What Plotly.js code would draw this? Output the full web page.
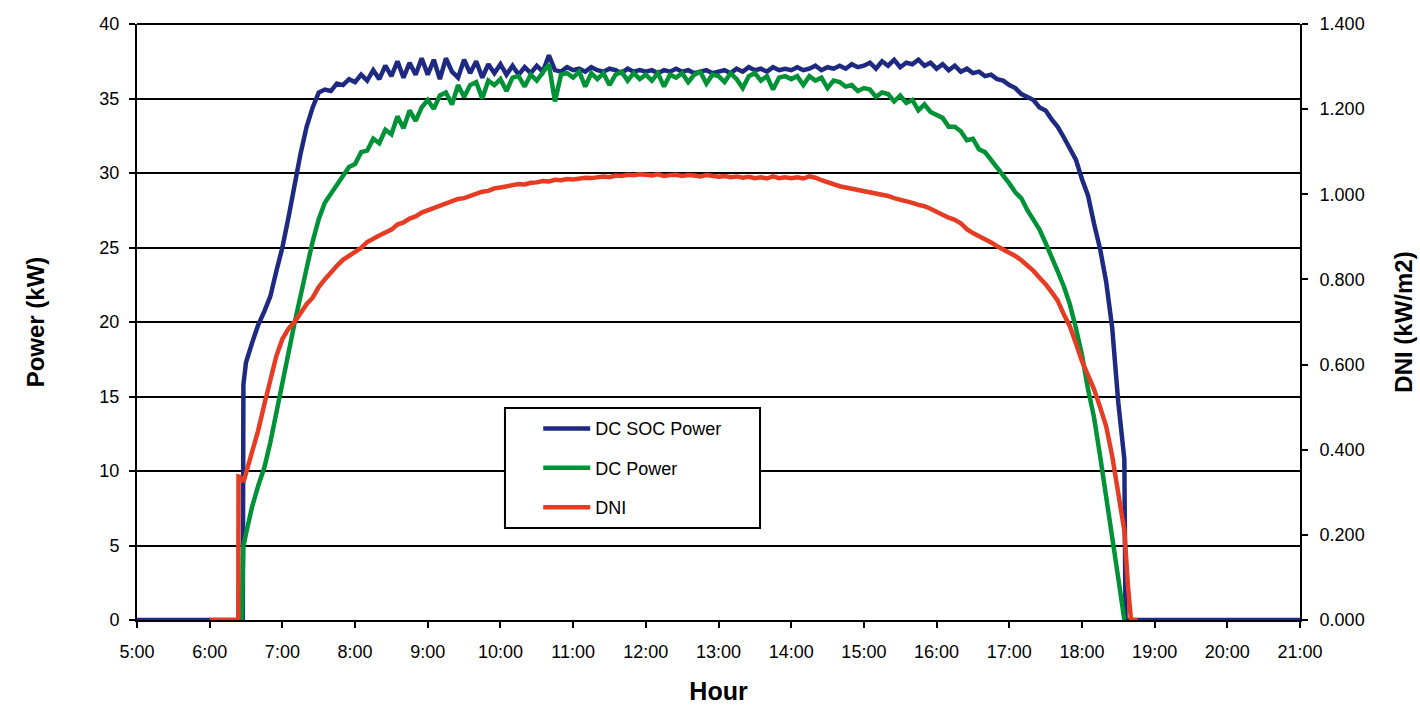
<!DOCTYPE html>
<html><head><meta charset="utf-8">
<script src="https://cdn.plot.ly/plotly-3.0.1.min.js"></script>
<style>html,body{margin:0;padding:0;background:#fff}#chart{width:1420px;height:706px}</style>
</head><body><div id="chart"></div>
<script>
// ---- axis ticks ----
const hourTicks = [5,6,7,8,9,10,11,12,13,14,15,16,17,18,19,20,21];
const hourLabels = ["5:00","6:00","7:00","8:00","9:00","10:00","11:00","12:00","13:00","14:00","15:00","16:00","17:00","18:00","19:00","20:00","21:00"];
const powerTicks = [0,5,10,15,20,25,30,35,40];
const dniTicks = [0,0.2,0.4,0.6,0.8,1.0,1.2,1.4];

// ---- regular 5-minute readings, 6:30 .. 18:30 ----
const gridStart = "6:30";
const gridEnd = "18:30";
const gridStepMin = 5;

// DC SOC Power (kW)
const socPower = [
 17.3,18.6,19.8,20.7,21.7,23.4,
 25.0,27.0,29.2,31.3,33.1,34.4,35.4,35.6,35.5,36.0,35.9,36.3,
 36.1,36.6,36.2,36.9,36.3,37.2,36.5,37.5,36.4,37.4,36.6,37.7,
 36.6,37.6,36.3,37.7,36.8,36.4,37.6,36.7,37.5,36.4,37.3,36.7,
 37.3,36.6,37.2,36.6,37.1,36.7,37.2,36.8,37.9,36.9,36.8,37.1,
 36.9,37.0,36.8,37.1,36.9,36.8,37.0,36.9,36.7,37.0,36.8,36.9,
 36.8,36.9,36.7,36.9,36.8,37.0,36.8,36.9,36.7,36.8,36.9,36.7,
 36.8,36.9,36.7,37.0,36.8,37.1,36.9,37.0,36.8,37.1,36.9,37.0,
 36.9,37.1,36.9,37.0,37.2,36.9,37.1,37.0,37.2,37.0,37.3,37.1,
 37.2,37.4,37.0,37.5,37.2,37.6,37.1,37.4,37.3,37.6,37.2,37.4,
 37.0,37.3,36.9,37.2,36.8,37.0,36.7,36.8,36.5,36.6,36.3,36.2,
 35.9,35.7,35.3,35.1,34.9,34.4,34.2,33.6,33.1,32.4,31.7,30.9,
 29.6,28.5,26.6,24.9,22.7,19.6,14.6
];
// DC Power (kW)
const dcPower = [
 5.8,7.6,9.0,10.2,11.9,13.8,
 15.9,17.9,19.9,21.9,23.6,25.4,26.9,28.0,28.6,29.1,29.7,30.4,
 30.6,31.4,31.5,32.3,32.0,32.9,32.6,33.8,33.0,34.2,33.5,34.4,
 34.9,34.3,35.2,35.4,34.6,35.9,35.1,35.9,36.1,35.0,36.2,35.9,
 36.3,35.5,36.4,36.5,35.8,36.6,36.2,36.7,37.3,34.8,36.6,36.7,
 36.4,36.8,35.8,36.7,36.3,36.7,35.9,36.6,36.8,36.2,36.7,36.3,
 36.6,36.2,36.7,35.8,36.6,36.4,36.7,36.1,36.6,36.8,36.0,36.6,
 36.5,36.1,36.7,36.3,35.7,36.5,36.7,36.2,36.5,35.6,36.4,36.5,
 36.3,36.5,35.9,36.5,36.2,36.4,35.7,36.2,36.1,35.8,35.9,35.5,
 35.7,35.6,35.1,35.4,35.3,34.8,35.2,34.7,34.9,34.2,34.6,34.1,
 33.9,33.7,33.1,33.1,32.8,32.2,32.3,31.6,31.4,30.9,30.4,29.9,
 29.3,28.7,28.3,27.5,26.9,26.2,25.3,24.4,23.4,22.4,21.2,19.6,
 17.8,15.5,13.6,11.0,8.4,5.6,2.8
];
// DNI (kW/m2)
const dni = [
 0.345,0.390,0.445,0.505,0.565,0.620,
 0.660,0.684,0.700,0.722,0.742,0.757,0.782,0.800,0.818,0.832,0.846,0.856,
 0.866,0.874,0.888,0.897,0.903,0.910,0.917,0.929,0.934,0.943,0.948,0.957,
 0.962,0.969,0.972,0.979,0.983,0.989,0.991,0.996,0.999,1.006,1.008,1.014,
 1.016,1.019,1.020,1.024,1.023,1.027,1.028,1.031,1.030,1.034,1.033,1.036,
 1.035,1.037,1.039,1.038,1.041,1.042,1.040,1.044,1.043,1.046,1.045,1.047,
 1.046,1.044,1.047,1.043,1.045,1.046,1.043,1.045,1.044,1.042,1.045,1.043,
 1.041,1.043,1.040,1.042,1.039,1.041,1.038,1.040,1.037,1.042,1.038,1.040,
 1.038,1.040,1.037,1.042,1.039,1.033,1.028,1.024,1.019,1.016,1.013,1.010,
 1.008,1.005,1.003,0.999,0.996,0.991,0.988,0.984,0.980,0.975,0.972,0.966,
 0.958,0.952,0.945,0.940,0.932,0.918,0.909,0.902,0.894,0.887,0.878,0.871,
 0.864,0.855,0.845,0.834,0.820,0.804,0.789,0.770,0.750,0.718,0.690,0.650,
 0.608,0.575,0.542,0.500,0.455,0.385,0.300
];

// ---- irregular readings before / after the regular grid ----
const socLeadTimes = ["5:00","6:27:20","6:27:50","6:29"];
const socLeadVals  = [0, 0, 15.8, 17.0];
const socTailTimes = ["18:35","18:36","21:00"];
const socTailVals  = [10.8, 0, 0];

const dcLeadTimes = ["6:26:30","6:27:45"];
const dcLeadVals  = [0, 4.9];
const dcTailTimes = ["18:35"];
const dcTailVals  = [0];

const dniLeadTimes = ["6:00","6:23:36","6:23:48","6:25","6:28"];
const dniLeadVals  = [0, 0, 0.337, 0.336, 0.325];
const dniTailTimes = ["18:35","18:38","18:40:30","18:46"];
const dniTailVals  = [0.21, 0.08, 0, 0];

// ---- helpers ----
function toHours(s){
  const p = s.split(":").map(Number);
  return p[0] + (p[1]||0)/60 + (p[2]||0)/3600;
}
const gridTimes = [];
for (let m = toHours(gridStart)*60; m <= toHours(gridEnd)*60 + 1e-6; m += gridStepMin) gridTimes.push(m/60);

function series(leadT, leadV, vals, tailT, tailV){
  return {
    x: leadT.map(toHours).concat(gridTimes, tailT.map(toHours)),
    y: leadV.concat(vals, tailV)
  };
}
const sSoc = series(socLeadTimes, socLeadVals, socPower, socTailTimes, socTailVals);
const sDc  = series(dcLeadTimes, dcLeadVals, dcPower, dcTailTimes, dcTailVals);
const sDni = series(dniLeadTimes, dniLeadVals, dni, dniTailTimes, dniTailVals);

const FONT = "Liberation Sans, Arial, Helvetica, sans-serif";
const traces = [
  {x:sSoc.x, y:sSoc.y, name:"DC SOC Power", type:"scatter", mode:"lines",
   line:{color:"#1e2982", width:4.5}, legendgroup:"a", yaxis:"y"},
  {x:sDc.x, y:sDc.y, name:"DC Power", type:"scatter", mode:"lines",
   line:{color:"#009236", width:4.5}, legendgroup:"b", yaxis:"y"},
  {x:sDni.x, y:sDni.y, name:"DNI", type:"scatter", mode:"lines",
   line:{color:"#e63c23", width:4.5}, legendgroup:"c", yaxis:"y2"}
];

const layout = {
  width:1420, height:706,
  margin:{l:137, r:120, t:24, b:86},
  paper_bgcolor:"#fff", plot_bgcolor:"#fff",
  font:{family:FONT, size:18, color:"#000"},
  showlegend:true,
  legend:{x:0.345, xanchor:"left", y:0.352, yanchor:"top",
    bgcolor:"rgba(0,0,0,0)", borderwidth:0, font:{family:FONT, size:18, color:"#000"},
    tracegroupgap:13, traceorder:"grouped", itemwidth:47},
  xaxis:{range:[5,21], tickmode:"array", tickvals:hourTicks, ticktext:hourLabels,
    showgrid:false, zeroline:false, showline:true, linecolor:"#000", linewidth:2,
    mirror:false, ticks:"outside", ticklen:6, tickwidth:2, tickcolor:"#000",
    ticklabelstandoff:8, fixedrange:true,
    title:{text:"<b>Hour</b>", font:{family:FONT, size:25, color:"#000"}, standoff:22}},
  yaxis:{range:[0,40], tickmode:"array", tickvals:powerTicks,
    showgrid:true, gridcolor:"#000", gridwidth:2, zeroline:false,
    showline:true, linecolor:"#000", linewidth:2, ticks:"outside", ticklen:6, tickwidth:2, tickcolor:"#000",
    ticklabelstandoff:6,
    title:{text:"<b>Power (kW)</b>", font:{family:FONT, size:24, color:"#000"}, standoff:48}},
  yaxis2:{range:[0,1.4], tickmode:"array", tickvals:dniTicks, tickformat:".3f",
    overlaying:"y", side:"right", showgrid:false, zeroline:false,
    showline:true, linecolor:"#000", linewidth:2, ticks:"outside", ticklen:6, tickwidth:2, tickcolor:"#000",
    ticklabelstandoff:8,
    title:{text:"<b>DNI (kW/m2)</b>", font:{family:FONT, size:24, color:"#000"}, standoff:32}},
  yaxis3:{range:[0,1.4], tickmode:"array", tickvals:dniTicks, overlaying:"y", side:"right",
    showgrid:false, zeroline:false, showline:false, showticklabels:false,
    ticks:"inside", ticklen:6, tickwidth:2, tickcolor:"#000"},
  shapes:[
    {type:"line", xref:"paper", yref:"paper", x0:0, x1:1, y0:1, y1:1, line:{color:"#000", width:2}, layer:"above"},
    {type:"rect", xref:"paper", yref:"paper", x0:0.3164, x1:0.5357, y0:0.1544, y1:0.3557,
     fillcolor:"#fff", line:{color:"#000", width:2}, layer:"above"}
  ]
};
Plotly.newPlot("chart", traces, layout, {displayModeBar:false, staticPlot:true});
</script>
</body></html>
